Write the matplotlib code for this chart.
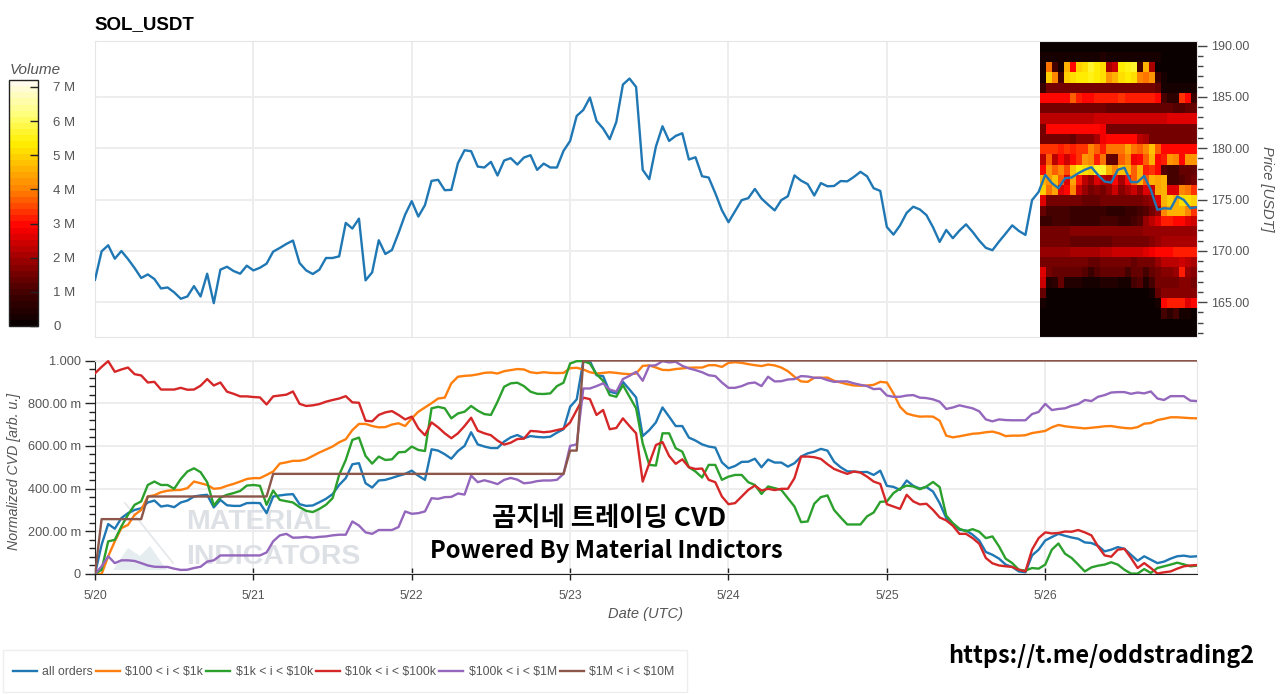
import numpy as np
import matplotlib
matplotlib.use("Agg")
import matplotlib.pyplot as plt
from matplotlib.colors import LinearSegmentedColormap
from matplotlib.patches import Rectangle
from matplotlib.ticker import MultipleLocator, FixedLocator

plt.rcParams['font.family'] = ['Liberation Sans', 'DejaVu Sans']

W, H = 1280, 694

# hourly values, hour 0 = 5/20 00:00
price = [
    167.18, 169.95, 170.54, 169.23, 169.98, 169.2, 168.32, 167.35, 167.7, 167.25, 166.33, 166.43,
    165.95, 165.33, 165.55, 166.56, 165.55, 167.77, 164.9, 168.16, 168.45, 168.03, 167.77, 168.55,
    168.09, 168.35, 168.75, 169.92, 170.28, 170.67, 171.0, 168.81, 168.09, 167.74, 168.16, 169.3,
    169.3, 169.46, 172.72, 172.17, 173.14, 167.12, 167.9, 171.03, 169.69, 170.08, 171.74, 173.53,
    174.84, 173.34, 174.45, 176.82, 176.92, 175.91, 175.94, 178.54, 179.8, 179.71, 178.21, 178.12,
    178.67, 177.34, 178.8, 179.03, 178.41, 179.09, 179.32, 177.89, 178.5, 178.12, 178.12, 179.74,
    180.71, 183.15, 183.73, 184.94, 182.66, 181.92, 180.88, 182.56, 186.2, 186.79, 185.97, 177.89,
    176.98, 180.16, 182.14, 180.71, 181.2, 181.46, 178.9, 179.12, 177.27, 177.14, 175.62, 173.96,
    172.79, 173.87, 174.94, 175.13, 176.03, 175.1, 174.5, 173.94, 174.94, 175.32, 177.35, 176.84,
    176.5, 175.39, 176.6, 176.29, 176.32, 176.8, 176.77, 177.2, 177.7, 177.26, 176.1, 175.84,
    172.32, 171.58, 172.48, 173.7, 174.3, 174.03, 173.48, 172.29, 170.87, 172.03, 171.23, 171.97,
    172.58, 171.84, 171.0, 170.29, 170.06, 170.9, 171.68, 172.48, 171.94, 171.55, 174.94, 175.74,
    177.4, 176.6, 176.1, 177.08, 177.14, 177.56, 177.9, 178.15, 177.4, 176.75, 176.65, 177.9,
    178.1, 176.7, 176.7, 177.3, 175.94, 174.0, 174.15, 174.1, 175.3, 174.97, 174.15, 174.25,
]

all_orders = [
    0, .137, .234, .212, .262, .285, .30, .308, .335, .344, .316, .321,
    .313, .335, .344, .363, .368, .371, .312, .347, .322, .319, .319, .332,
    .333, .332, .285, .363, .368, .372, .374, .327, .319, .321, .336, .352,
    .374, .417, .449, .514, .519, .425, .405, .438, .441, .45, .46, .469,
    .484, .46, .441, .584, .578, .561, .54, .576, .60, .664, .607, .597,
    .59, .59, .62, .64, .651, .636, .646, .642, .64, .643, .662, .678,
    .783, .818, .997, .997, .931, .927, .854, .846, .90, .864, .827, .646,
    .674, .71, .78, .737, .693, .693, .639, .625, .607, .597, .592, .523,
    .495, .506, .525, .526, .54, .50, .536, .522, .522, .503, .519, .55,
    .565, .573, .586, .578, .526, .50, .481, .48, .477, .478, .464, .484,
    .413, .408, .394, .438, .413, .40, .407, .386, .332, .262, .235, .207,
    .204, .184, .157, .103, .09, .072, .044, .033, .012, .008, .087, .114,
    .157, .173, .188, .179, .171, .165, .148, .145, .132, .106, .114, .126,
    .118, .09, .062, .083, .067, .051, .058, .072, .083, .086, .081, .083,
]

band_100_1k = [
    0, 0, .083, .153, .215, .23, .277, .30, .363, .369, .383, .39,
    .393, .394, .402, .433, .425, .417, .399, .402, .413, .422, .433, .445,
    .449, .449, .464, .48, .517, .523, .53, .53, .537, .553, .569, .583,
    .597, .617, .631, .674, .703, .703, .693, .687, .688, .70, .706, .693,
    .729, .76, .78, .80, .822, .826, .893, .924, .928, .93, .935, .942,
    .944, .939, .95, .955, .96, .958, .945, .941, .945, .942, .941, .942,
    .964, .966, .958, .945, .939, .942, .945, .942, .938, .936, .939, .975,
    .977, .967, .956, .955, .96, .963, .966, .967, .967, .978, .978, .97,
    .989, .992, .989, .983, .978, .974, .981, .977, .967, .95, .924, .902,
    .90, .919, .919, .92, .905, .897, .889, .883, .882, .883, .886, .90,
    .897, .846, .783, .752, .743, .737, .738, .737, .718, .648, .64, .645,
    .651, .657, .659, .664, .667, .659, .646, .648, .648, .65, .66, .665,
    .67, .687, .698, .692, .688, .685, .682, .685, .688, .692, .693, .688,
    .684, .682, .688, .704, .707, .721, .727, .734, .734, .732, .73, .729,
]

band_1k_10k = [
    0, .02, .153, .16, .223, .277, .324, .34, .417, .433, .417, .417,
    .399, .445, .48, .495, .477, .43, .321, .358, .371, .379, .389, .414,
    .417, .413, .324, .391, .347, .341, .335, .313, .296, .29, .305, .324,
    .355, .464, .534, .628, .639, .553, .517, .55, .534, .537, .57, .572,
    .597, .581, .576, .776, .783, .776, .729, .752, .76, .787, .765, .749,
    .745, .807, .877, .893, .896, .88, .854, .844, .843, .846, .88, .896,
    .986, .997, .997, .986, .936, .905, .838, .83, .885, .83, .776, .612,
    .511, .508, .659, .659, .589, .573, .50, .48, .452, .511, .511, .441,
    .456, .464, .464, .43, .417, .375, .41, .402, .394, .355, .316, .243,
    .246, .329, .36, .368, .30, .265, .232, .232, .232, .27, .288, .338,
    .34, .379, .40, .414, .41, .397, .41, .431, .407, .274, .238, .212,
    .20, .21, .198, .168, .176, .129, .072, .051, .02, .016, .028, .025,
    .044, .114, .143, .095, .075, .044, .012, .031, .039, .044, .055, .044,
    .02, .002, .002, .023, .005, .028, .036, .044, .053, .045, .036, .039,
]

band_10k_100k = [
    .94, .97, .997, .947, .958, .967, .936, .93, .897, .90, .864, .864,
    .864, .872, .863, .864, .882, .913, .883, .897, .854, .844, .832, .832,
    .829, .827, .794, .832, .836, .84, .855, .797, .787, .79, .796, .807,
    .815, .822, .833, .804, .802, .718, .715, .745, .757, .763, .745, .724,
    .737, .682, .65, .71, .687, .659, .636, .659, .693, .732, .671, .659,
    .65, .625, .606, .615, .632, .634, .67, .668, .664, .667, .674, .681,
    .71, .768, .826, .819, .745, .768, .678, .684, .729, .693, .659, .433,
    .519, .604, .618, .553, .516, .537, .50, .492, .494, .441, .43, .363,
    .327, .332, .363, .394, .414, .391, .399, .393, .399, .399, .449, .55,
    .55, .547, .539, .514, .492, .48, .469, .48, .475, .456, .433, .422,
    .327, .316, .305, .371, .34, .326, .329, .30, .265, .251, .226, .188,
    .188, .168, .142, .075, .05, .04, .036, .033, .02, .012, .114, .168,
    .195, .19, .192, .199, .198, .206, .195, .181, .129, .087, .081, .114,
    .118, .075, .028, .051, .028, .002, .008, .012, .025, .036, .04, .042,
]

band_100k_1m = [
    0, .036, .083, .051, .064, .064, .061, .051, .04, .034, .033, .033,
    .025, .019, .02, .028, .034, .058, .064, .087, .087, .087, .087, .087,
    .087, .087, .101, .153, .181, .188, .17, .171, .174, .17, .174, .176,
    .181, .184, .184, .246, .227, .195, .188, .206, .206, .206, .22, .293,
    .282, .285, .293, .355, .352, .36, .361, .377, .372, .461, .43, .439,
    .431, .421, .441, .45, .442, .425, .428, .435, .438, .438, .441, .469,
    .60, .607, .869, .869, .88, .893, .864, .854, .913, .928, .947, .905,
    .975, .978, .997, .991, .994, .975, .963, .955, .945, .931, .927, .897,
    .872, .872, .88, .893, .897, .88, .924, .902, .903, .911, .913, .927,
    .925, .919, .919, .908, .90, .902, .902, .893, .886, .88, .866, .868,
    .836, .83, .83, .836, .838, .826, .824, .818, .807, .773, .78, .79,
    .783, .776, .762, .724, .715, .724, .721, .72, .72, .72, .749, .759,
    .797, .768, .773, .776, .788, .796, .815, .81, .83, .838, .85, .852,
    .852, .844, .85, .846, .855, .822, .815, .833, .833, .833, .812, .81,
]

# this one is a staircase, corners only
band_1m_10m_hours = [0, 1, 7, 8, 26, 27, 71, 72, 73, 74, 167]
band_1m_10m = [0, .257, .257, .363, .363, .469, .469, .578, .578, 1.0, 1.0]

series_labels = ['all orders', r'\$100 < i < \$1k', r'\$1k < i < \$10k',
                 r'\$10k < i < \$100k', r'\$100k < i < \$1M', r'\$1M < i < \$10M']
series_colors = ['#1f77b4', '#ff7f0e', '#2ca02c', '#d62728', '#9467bd', '#8c564b']

day_hours = [0, 24, 48, 72, 96, 120, 144]
day_labels = ['5/20', '5/21', '5/22', '5/23', '5/24', '5/25', '5/26']
price_ticks = [165, 170, 175, 180, 185, 190]
cvd_ticks = [0, .2, .4, .6, .8, 1.0]
cvd_tick_labels = ['0', '200.00 m', '400.00 m', '600.00 m', '800.00 m', '1.000']
volume_ticks = [0, 1, 2, 3, 4, 5, 6, 7]
volume_tick_labels = ['0', '1 M', '2 M', '3 M', '4 M', '5 M', '6 M', '7 M']

# volume profile in millions, rows from the top price bin down, 26 time bins
volume = [
    [.1] * 26,
    [.2, .2, .3, .3, .3, .3, .2, .3, .3, .3, .4, .3, .3, .3, .3, .3, .3, .3, .3, .2, .1, .1, .1, .1, .1, .1],
    [.2, 3.8, 1.0, .3, 4.6, 3.0, 5.0, 5.2, 5.7, 5.3, 5.2, 2.0, 2.5, 5.3, 5.4, 5.6, 1.0, 4.6, 2.0, .15, .1, .1, .1, .1, .1, .1],
    [.3, 4.9, 4.0, 1.0, 5.0, 5.2, 5.3, 5.3, 5.4, 5.3, 5.2, 4.3, 4.6, 5.2, 5.3, 5.2, 4.0, 3.8, 4.2, .8, .3, .1, .1, .1, .1, .1],
    [.8, 1.5, 1.5, 1.5, 1.5, 1.5, 1.5, 1.5, 1.5, 1.5, 1.5, 1.5, 1.5, 1.6, 1.6, 1.6, 1.6, 1.5, 1.5, 1.3, .3, .3, .3, .3, .3, .3],
    [3.0, 3.0, 3.0, 3.0, 3.0, 3.6, 3.1, 3.0, 3.0, 3.2, 3.1, 3.1, 3.2, 3.3, 3.1, 3.2, 3.2, 3.1, 3.2, 3.0, .9, .7, .6, 3.4, 3.0, .8],
    [1.6, 1.6, 1.6, 1.6, 1.6, 1.6, 1.6, 1.6, 1.6, 1.6, 1.6, 1.3, 1.3, 1.3, 1.3, 1.3, 1.3, 1.3, 1.3, 1.3, 1.3, 1.3, 1.2, 1.2, 1.3, 1.3],
    [2.3, 2.3, 2.3, 2.3, 2.3, 2.3, 2.3, 2.3, 2.3, 2.4, 2.5, 2.5, 2.5, 2.5, 2.5, 2.5, 2.5, 2.5, 2.5, 2.5, 2.5, 2.6, 2.6, 2.6, 2.6, 2.6],
    [1.5, 2.9, 2.9, 2.9, 2.9, 2.9, 2.9, 3.0, 2.9, 2.9, 2.8, 1.5, 1.5, 1.5, 1.5, 1.5, 1.5, 1.5, 1.5, 1.5, 1.5, 1.5, 1.5, 1.5, 1.5, 1.5],
    [1.5, 1.5, 1.5, 1.5, 1.5, 1.4, 1.7, 1.7, 1.7, 2.0, 2.8, 3.0, 3.0, 3.0, 3.0, 2.9, 2.3, 2.0, 1.6, 1.6, 1.6, 1.6, 1.6, 1.6, 1.6, 1.6],
    [3.3, 3.3, 3.3, 3.2, 3.4, 3.2, 3.4, 3.3, 4.0, 3.6, 3.2, 3.8, 3.8, 3.9, 4.4, 3.9, 3.6, 4.0, 4.8, 3.6, 2.9, 3.0, 3.0, 3.0, 2.9, 2.9],
    [2.3, 3.6, 2.2, 3.0, 2.5, 3.0, 3.4, 4.2, 4.0, 3.2, 3.8, 1.3, 1.3, 3.6, 4.0, 2.8, 3.0, 3.6, 4.6, 3.0, 3.2, 4.2, 4.0, 3.0, 4.3, 4.3],
    [3.0, 4.2, 3.6, 4.0, 3.5, 4.7, 5.3, 5.2, 5.0, 5.6, 5.6, 4.5, 4.0, 4.7, 4.5, 3.6, 4.6, 3.2, 3.4, 3.0, 1.2, 1.0, 1.0, 1.3, 1.3, 1.3],
    [4.6, 4.2, 4.8, 3.6, 2.6, 4.4, 3.2, 2.2, 1.8, 2.6, 2.2, 2.0, 3.0, 2.0, 3.0, 3.6, 4.6, 3.6, 4.6, 4.4, 4.6, 1.0, .9, 1.2, 1.4, 1.6],
    [5.0, 3.8, 4.4, 2.6, 3.0, 4.0, 2.4, 1.8, 1.5, 1.7, 1.6, 1.8, 2.4, 1.7, 2.0, 2.4, 1.8, 2.6, 2.4, 4.4, 4.5, 2.6, 2.6, 4.0, 3.8, 3.4],
    [2.6, 1.5, 1.5, 1.6, 1.6, 1.5, 1.5, 1.4, 1.4, 1.4, 1.5, 1.5, 1.5, 1.5, 1.5, 1.6, 1.6, 1.7, 1.9, 2.6, 4.6, 5.0, 4.6, 5.2, 5.2, 5.0],
    [1.3, .9, .9, .9, .9, .8, .8, .8, .8, .8, .8, .7, .7, .7, .8, .8, .9, 1.1, 1.6, 1.9, 4.0, 4.6, 4.5, 4.6, 4.0, 3.4],
    [.8, .8, .9, .9, .9, .8, .8, .8, .8, .8, .9, .9, .9, .8, .8, .9, 1.2, 1.8, 2.2, 2.6, 3.2, 3.2, 3.0, 3.0, 2.6, 2.4],
    [1.6, 1.6, 1.6, 1.6, 1.6, 1.7, 1.7, 1.7, 1.7, 1.7, 1.7, 1.7, 1.7, 1.7, 1.7, 1.7, 1.7, 1.8, 1.8, 1.9, 1.9, 1.9, 1.9, 1.9, 1.9, 1.9],
    [1.5, 1.6, 1.6, 1.5, 1.5, 1.4, 1.3, 1.3, 1.3, 1.3, 1.4, 1.4, 1.5, 1.5, 1.5, 1.5, 1.6, 1.6, 1.7, 1.8, 2.0, 2.0, 2.0, 2.0, 2.0, 2.0],
    [1.9, 1.8, 1.8, 1.9, 1.9, 2.0, 2.0, 2.0, 2.1, 2.1, 2.2, 2.3, 2.4, 2.4, 2.4, 2.5, 2.5, 2.6, 2.7, 2.9, 3.0, 3.0, 3.1, 3.1, 3.2, 3.1],
    [1.6, 1.5, 1.5, 1.5, 1.5, 1.5, 1.5, 1.5, 1.4, 1.4, 1.5, 1.5, 1.5, 1.5, 1.5, 1.4, 1.5, 1.5, 1.6, 1.8, 2.2, 2.3, 2.3, 2.4, 2.2, 2.1],
    [2.6, 1.6, 1.4, 1.4, 1.4, 1.3, 1.3, 1.2, .8, 1.1, 1.3, 1.3, 1.3, 1.3, 1.0, 1.3, 1.3, 1.0, 1.3, 1.6, 1.7, 1.7, 1.8, 3.2, 1.8, 1.7],
    [2.4, .5, .7, 1.3, .5, .5, .4, .3, .3, .3, .5, .5, .4, .3, .3, 1.0, 1.2, .4, 1.0, 1.5, 1.6, 1.6, 1.6, 1.7, 1.7, 1.6],
    [1.4, .1, .1, .1, .1, .1, .1, .1, .1, .1, .1, .1, .1, .1, .1, .1, .1, .1, .3, 1.4, 1.7, 1.7, 1.7, 1.7, 1.7, 1.7],
    [.2, .1, .1, .1, .1, .1, .1, .1, .1, .1, .1, .1, .1, .1, .1, .1, .1, .1, .1, .2, 3.0, 3.1, 3.1, 3.1, 2.6, 3.0],
    [.1, .1, .1, .1, .1, .1, .1, .1, .1, .1, .1, .1, .1, .1, .1, .1, .1, .1, .1, .1, 1.0, .7, 1.0, .2, .2, .1],
    [.05] * 26,
    [.05] * 26,
]
volume_hours = np.linspace(143.2, 167, 27)
volume_prices = np.arange(161.4, 191, 1.0)


def box(left, top, right, bottom):
    # pixel box of the picture -> figure fractions
    return [left / W, 1 - bottom / H, (right - left) / W, (bottom - top) / H]


fig = plt.figure(figsize=(W / 100, H / 100), dpi=100)
grid_color = '#ededed'
text_color = '#555555'
hours = np.arange(168)

# colour scale as it looks on the bar, stops are in millions / 7.2
cmap = LinearSegmentedColormap.from_list('volume', [
    (0.0, '#0a0000'), (1.0 / 7.2, '#4a0000'), (2.0 / 7.2, '#a50000'), (2.9 / 7.2, '#ff0000'),
    (4.0 / 7.2, '#ff8200'), (5.4 / 7.2, '#fff000'), (6.3 / 7.2, '#ffff80'), (1.0, '#fffaeb'),
], N=40)

# ----- price panel
ax1 = fig.add_axes(box(95, 41, 1197, 337))
mesh = ax1.pcolormesh(volume_hours, volume_prices, np.array(volume[::-1]),
                      cmap=cmap, vmin=0, vmax=7.2, zorder=2)
ax1.plot(hours, price, color=series_colors[0], lw=1.7, zorder=3)
ax1.set_xlim(0, 167)
ax1.set_ylim(161.6, 190.45)
ax1.set_xticks(day_hours)
ax1.set_yticks(price_ticks)
ax1.set_yticklabels([f'{p:.2f}' for p in price_ticks])
ax1.yaxis.set_minor_locator(MultipleLocator(1))
ax1.yaxis.tick_right()
ax1.yaxis.set_label_position('right')
ax1.tick_params(axis='x', length=0, labelbottom=False)
ax1.tick_params(axis='y', which='major', length=7, width=1, color='#444444',
                labelsize=9, labelcolor=text_color, pad=3)
ax1.tick_params(axis='y', which='minor', length=4, width=1, color='#444444')
ax1.grid(True, color=grid_color, lw=1.4, zorder=0)
ax1.yaxis.get_gridlines()[-1].set_visible(False)
ax1.set_axisbelow(True)
for side in ax1.spines.values():
    side.set_color('#e6e6e6')
ax1.set_ylabel('Price [USDT]', rotation=270, style='italic', fontsize=10.5,
               color=text_color, va='center')
ax1.yaxis.set_label_coords(1.0635, .5)
fig.text(94.5 / W, 1 - 25 / H, 'SOL_USDT', fontsize=13.5, fontweight='bold',
         color='black', va='center')

# ----- colour bar
cax = fig.add_axes(box(9, 80, 38, 326))
cb = fig.colorbar(mesh, cax=cax)
cb.set_ticks(volume_ticks)
cb.set_ticklabels(volume_tick_labels)
cb.ax.tick_params(direction='in', length=6, width=1, color='#222222',
                  labelsize=9.5, labelcolor=text_color, pad=11)
cb.outline.set_edgecolor('#222222')
cb.outline.set_linewidth(1)
fig.text(10 / W, 1 - 70.5 / H, 'Volume', style='italic', fontsize=11,
         color=text_color, va='center')

# ----- CVD panel
ax2 = fig.add_axes(box(95, 360.5, 1197, 574))

# faint logo behind the curves
logo_line = [(125, 503), (173, 563)]
logo_hill = [(113, 570), (128, 548), (140, 556), (150, 546), (167, 570)]
def to_axes(points):
    return ax2.transAxes.inverted().transform(
        [(x, H - y) for x, y in points])
pts = to_axes(logo_line)
ax2.plot(pts[:, 0], pts[:, 1], transform=ax2.transAxes, color='#e4e7ea', lw=1.2, zorder=1)
pts = to_axes(logo_hill)
ax2.fill(pts[:, 0], pts[:, 1], transform=ax2.transAxes, color='#e6edf0', lw=0, zorder=1)
for label, y_px in [('MATERIAL', 522), ('INDICATORS', 557)]:
    xa, ya = to_axes([(186, y_px)])[0]
    ax2.text(xa, ya, label, transform=ax2.transAxes, fontsize=20.5, fontweight='bold',
             color='#dde1e5', va='center', zorder=1)

ax2.plot(hours, all_orders, color=series_colors[0], lw=1.7, label=series_labels[0], zorder=3)
ax2.plot(hours, band_100_1k, color=series_colors[1], lw=1.7, label=series_labels[1], zorder=3)
ax2.plot(hours, band_1k_10k, color=series_colors[2], lw=1.7, label=series_labels[2], zorder=3)
ax2.plot(hours, band_10k_100k, color=series_colors[3], lw=1.7, label=series_labels[3], zorder=3)
ax2.plot(hours, band_100k_1m, color=series_colors[4], lw=1.7, label=series_labels[4], zorder=3)
ax2.plot(band_1m_10m_hours, band_1m_10m, color=series_colors[5], lw=1.7,
         label=series_labels[5], zorder=3)
ax2.set_xlim(0, 167)
ax2.set_ylim(0, 1.0)
ax2.set_xticks(day_hours)
ax2.set_xticklabels(day_labels)
ax2.set_yticks(cvd_ticks)
ax2.set_yticklabels(cvd_tick_labels)
ax2.yaxis.set_minor_locator(FixedLocator(np.arange(0, 1.001, .04)))
ax2.tick_params(axis='x', which='major', length=9, width=1, color='#222222', direction='inout',
                labelsize=8.8, labelcolor=text_color, pad=7)
ax2.tick_params(axis='y', which='major', length=7, width=1, color='#222222',
                labelsize=9.2, labelcolor=text_color, pad=3)
ax2.tick_params(axis='y', which='minor', length=4, width=1, color='#222222')
ax2.grid(True, color=grid_color, lw=1.4, zorder=0)
ax2.set_axisbelow(True)
ax2.spines['top'].set_color('#e6e6e6')
ax2.spines['right'].set_color('#e6e6e6')
ax2.spines['left'].set_color('#222222')
ax2.spines['bottom'].set_color('#222222')
ax2.set_xlabel('Date (UTC)', style='italic', fontsize=10.5, color=text_color, va='center')
ax2.xaxis.set_label_coords(.5, -.187)
ax2.set_ylabel('Normalized CVD [arb. u.]', style='italic', fontsize=10.2, color=text_color, va='center')
ax2.yaxis.set_label_coords(-.0735, .48)

# ----- overlaid captions
kr_font = ['Noto Sans CJK KR', 'DejaVu Sans']
fig.text(609 / W, 1 - 518 / H, '곰지네 트레이딩 CVD', family=kr_font, fontsize=19,
         fontweight='bold', color='black', ha='center', va='center', zorder=5)
fig.text(606 / W, 1 - 551 / H, 'Powered By Material Indictors', family=kr_font, fontsize=17.1,
         fontweight='bold', color='black', ha='center', va='center', zorder=5)
fig.text(1101 / W, 1 - 655.5 / H, 'https://t.me/oddstrading2', family=kr_font, fontsize=16.9,
         fontweight='bold', color='black', ha='center', va='center', zorder=5)

# ----- legend, its box is drawn apart so the row can sit closer to the left edge
fig.add_artist(Rectangle((3 / W, 1 - 692 / H), 684 / W, 42 / H, transform=fig.transFigure,
                         facecolor='white', edgecolor='#eeeeee', lw=1))
handles, labels = ax2.get_legend_handles_labels()
fig.legend(handles, labels, loc='center left', bbox_to_anchor=(13 / W, 1 - 672 / H),
           ncols=6, fontsize=8.8, labelcolor=text_color, frameon=False,
           borderaxespad=0, borderpad=0, handlelength=1.95, handletextpad=.45, columnspacing=.25)

fig.savefig('out.png', dpi=100)
